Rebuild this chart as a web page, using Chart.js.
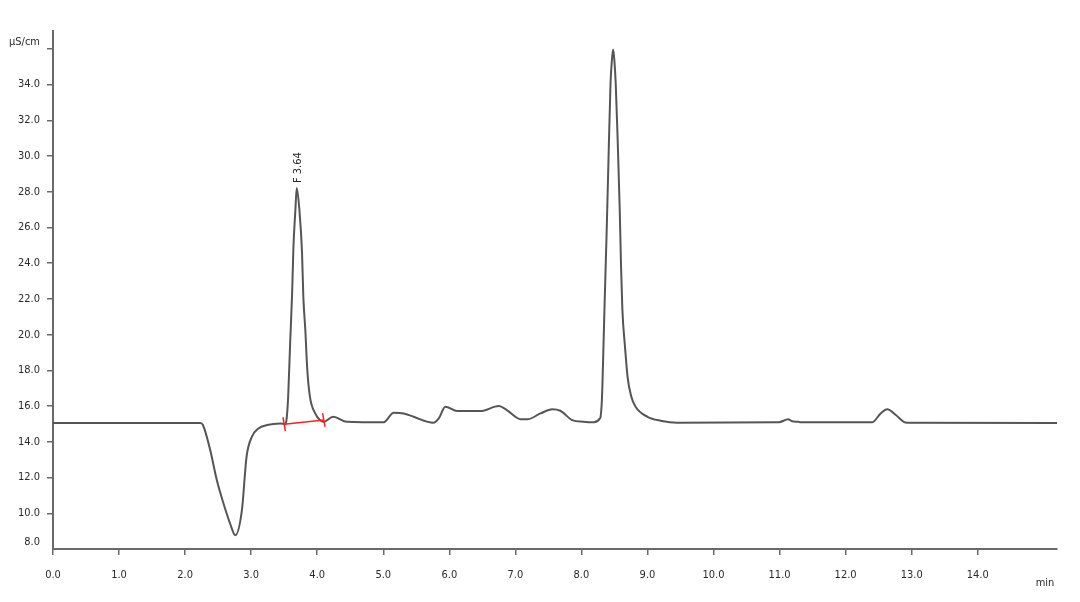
<!DOCTYPE html>
<html>
<head>
<meta charset="utf-8">
<script src="https://cdn.jsdelivr.net/npm/chart.js@4/dist/chart.umd.min.js"></script>
<style>
  html, body { margin: 0; padding: 0; background: #fff; }
  #wrap { width: 1080px; height: 602px; }
</style>
</head>
<body>
<div id="wrap"><canvas id="chrom"></canvas></div>
<script>
// chromatogram trace (min, µS/cm)
const times = [0, 2.23, 2.27, 2.38, 2.48, 2.58, 2.68, 2.76, 2.86, 2.93, 3.01, 3.11, 3.24, 3.44, 3.52,
  3.54, 3.56, 3.59, 3.62, 3.64, 3.67, 3.69, 3.73, 3.77, 3.79, 3.82, 3.85, 3.89, 3.97, 4.04, 4.10,
  4.24, 4.45, 5.00, 5.16, 5.31, 5.46, 5.76, 5.84, 5.94, 6.12, 6.47, 6.75, 6.87, 7.08, 7.18, 7.38,
  7.56, 7.68, 7.86, 8.03, 8.19, 8.28, 8.29, 8.31, 8.32, 8.35, 8.38, 8.41, 8.44, 8.46, 8.48, 8.50,
  8.52, 8.55, 8.58, 8.60, 8.62, 8.66, 8.70, 8.75, 8.82, 9.00, 9.20, 9.45, 10.99, 11.13, 11.19,
  11.29, 11.32, 12.40, 12.53, 12.63, 12.76, 12.88, 12.93, 15.20];
const conductivity = [15.05, 15.05, 14.94, 13.54, 11.86, 10.56, 9.44, 8.77, 10.17, 13.16, 14.28, 14.75, 14.94, 15.03, 14.99,
  15.40, 16.50, 19.50, 22.30, 24.90, 27.00, 28.21, 27.00, 24.60, 22.10, 20.26, 18.02, 16.52, 15.59, 15.22, 15.12,
  15.40, 15.12, 15.09, 15.63, 15.59, 15.40, 15.07, 15.31, 15.96, 15.72, 15.72, 16.00, 15.78, 15.26, 15.26, 15.59,
  15.82, 15.74, 15.22, 15.12, 15.09, 15.31, 15.40, 16.34, 17.46, 21.60, 25.50, 29.80, 34.00, 35.30, 35.96, 35.30,
  34.00, 30.74, 27.00, 23.80, 21.40, 19.30, 17.60, 16.60, 15.96, 15.40, 15.18, 15.07, 15.09, 15.27, 15.15,
  15.12, 15.09, 15.09, 15.59, 15.82, 15.50, 15.12, 15.07, 15.05];

// integration baseline of the F peak
const baseTimes = [3.50, 4.10];
const baseValues = [14.99, 15.22];

// peak annotation
const peakTimes = [3.69];
const peakValues = [28.21];
const peakNames = ['F 3.64'];

const xTicks = [0, 1, 2, 3, 4, 5, 6, 7, 8, 9, 10, 11, 12, 13, 14];
const yTicks = [8, 10, 12, 14, 16, 18, 20, 22, 24, 26, 28, 30, 32, 34, 36];
const yUnit = 'µS/cm';
const xUnit = 'min';

const FONT = "'DejaVu Sans Condensed', 'DejaVu Sans', sans-serif";
const TXT = '#2a2a2a';
const AXIS = '#6a6a6a';

const labelsPlugin = {
  id: 'labels',
  afterDraw(chart) {
    const { ctx, scales: { x, y } } = chart;
    ctx.save();
    ctx.fillStyle = TXT;
    ctx.font = '11px ' + FONT;
    // peak names, written upwards above the apex
    peakTimes.forEach((t, i) => {
      const px = x.getPixelForValue(t);
      const py = y.getPixelForValue(peakValues[i]);
      ctx.save();
      ctx.translate(px + 1, py - 5);
      ctx.rotate(-Math.PI / 2);
      ctx.textAlign = 'left';
      ctx.textBaseline = 'middle';
      ctx.fillText(peakNames[i], 0, 0);
      ctx.restore();
    });
    // unit of the time axis
    ctx.textAlign = 'center';
    ctx.textBaseline = 'middle';
    ctx.fillText(xUnit, 1045, 583);
    ctx.restore();
  }
};

new Chart(document.getElementById('chrom'), {
  type: 'line',
  data: {
    datasets: [
      {
        data: times.map((t, i) => ({ x: t, y: conductivity[i] })),
        borderColor: '#555',
        borderWidth: 2,
        pointRadius: 0,
        cubicInterpolationMode: 'monotone',
        order: 2
      },
      {
        data: baseTimes.map((t, i) => ({ x: t, y: baseValues[i] })),
        borderColor: '#ff2020',
        borderWidth: 1.5,
        pointStyle: 'line',
        pointRotation: 80,
        pointRadius: 7,
        pointBorderColor: '#ff2020',
        pointBorderWidth: 1.5,
        order: 1
      }
    ]
  },
  options: {
    responsive: true,
    maintainAspectRatio: false,
    animation: false,
    layout: { padding: { top: 31, right: 23, left: 0, bottom: 0 } },
    plugins: { legend: { display: false }, tooltip: { enabled: false } },
    scales: {
      x: {
        type: 'linear',
        min: 0,
        max: 15.2,
        afterBuildTicks: s => { s.ticks = xTicks.map(v => ({ value: v })); },
        afterFit: s => { s.height = 53; },
        ticks: {
          color: TXT,
          font: { family: FONT, size: 11 },
          padding: 14,
          maxRotation: 0,
          callback: v => v.toFixed(1)
        },
        grid: { drawOnChartArea: false, tickLength: 6, color: AXIS, lineWidth: 1.5 },
        border: { color: AXIS, width: 2 }
      },
      y: {
        type: 'linear',
        min: 8,
        max: 37,
        afterBuildTicks: s => { s.ticks = yTicks.map(v => ({ value: v })); },
        afterFit: s => { s.width = 53; },
        ticks: {
          color: TXT,
          font: { family: FONT, size: 11 },
          padding: 7,
          // the lowest label and the unit sit a little above their tick
          callback: v => v === 36 ? [yUnit, ''] : (v === 8 ? ['8.0', ''] : v.toFixed(1))
        },
        grid: {
          drawOnChartArea: false,
          tickLength: 6,
          lineWidth: 1.5,
          color: c => (c.tick && c.tick.value === 8) ? 'rgba(0,0,0,0)' : AXIS
        },
        border: { color: AXIS, width: 2 }
      }
    }
  },
  plugins: [labelsPlugin]
});
</script>
</body>
</html>
